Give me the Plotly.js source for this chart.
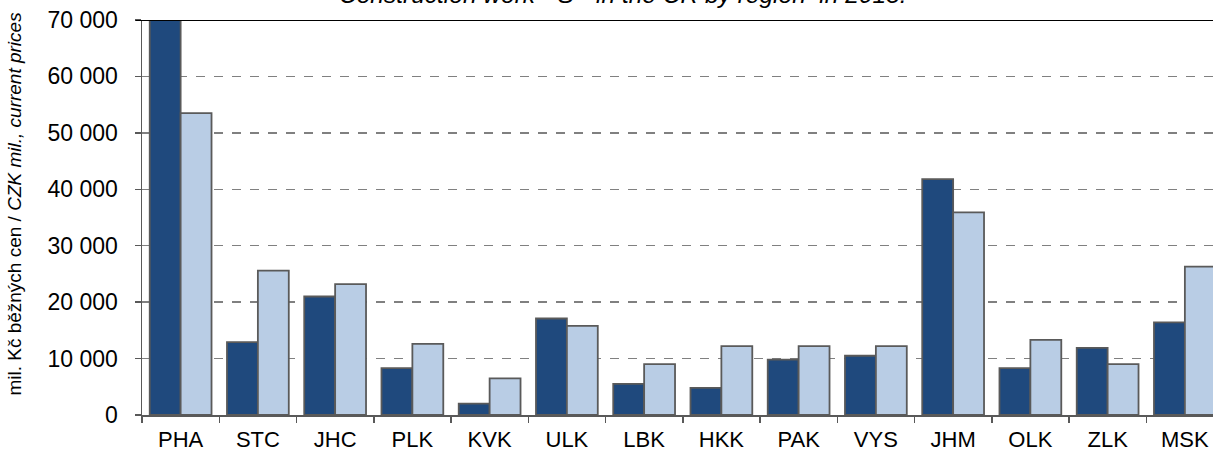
<!DOCTYPE html>
<html>
<head>
<meta charset="utf-8">
<script src="https://cdn.plot.ly/plotly-3.0.1.min.js"></script>
<style>html,body{margin:0;padding:0;background:#fff;}#chart{width:1213px;height:455px;}</style>
</head>
<body>
<div id="chart"></div>
<script>
const regions = ["PHA","STC","JHC","PLK","KVK","ULK","LBK","HKK","PAK","VYS","JHM","OLK","ZLK","MSK"];
const seriesDark = [72000,12900,21000,8300,2000,17100,5500,4800,9800,10500,41800,8300,11900,16400];
const seriesLight = [53500,25600,23200,12600,6500,15800,9000,12200,12200,12200,35900,13300,9000,26300];
const yTickVals = [0,10000,20000,30000,40000,50000,60000,70000];
const yTickText = ["0","10 000","20 000","30 000","40 000","50 000","60 000","70 000"];
const chartTitle = "Construction work \u00a0\"S\"\u00a0 in the CR by region\u00a0 in 2013:";

const outline = {color:"#5a5a5a", width:1.8};
const traces = [
  {type:"bar", x:regions, y:seriesDark, marker:{color:"#1f497d", line:outline}, hoverinfo:"x+y"},
  {type:"bar", x:regions, y:seriesLight, marker:{color:"#b9cde5", line:outline}, hoverinfo:"x+y"}
];
const fontFam = "Liberation Sans, Arial, sans-serif";
const layout = {
  width:1213, height:455,
  margin:{l:142, r:0, t:20, b:40, pad:0},
  paper_bgcolor:"#fff", plot_bgcolor:"#fff",
  showlegend:false,
  barmode:"group", bargap:0.2, bargroupgap:0,
  font:{family:fontFam, size:22, color:"#000"},
  xaxis:{type:"category", range:[-0.5, 13.364], showgrid:false, showline:true, linecolor:"#595959", linewidth:1.5,
         ticks:"outside", tickson:"boundaries", ticklen:6, tickcolor:"#595959", tickwidth:1.5, ticklabelstandoff:4,
         tickfont:{family:fontFam, size:22, color:"#000"}, fixedrange:true},
  yaxis:{range:[0,70000], tickvals:yTickVals, ticktext:yTickText, showgrid:true, gridcolor:"#808080", griddash:"dash", gridwidth:1.5,
         showline:true, linecolor:"#595959", linewidth:1.5, ticks:"outside", ticklen:6, tickcolor:"#595959", tickwidth:1.5, ticklabelstandoff:12,
         tickfont:{family:fontFam, size:23, color:"#000"}, zeroline:false, fixedrange:true},
  shapes:[{type:"line", xref:"paper", yref:"y", x0:-0.006, x1:1, y0:70000, y1:70000, line:{color:"#000", width:1.8}, layer:"above"}],
  annotations:[
    {text:chartTitle, xref:"paper", yref:"paper", x:0.449, y:1.025, xanchor:"center", yanchor:"bottom", showarrow:false,
     font:{family:fontFam, size:24.5, style:"italic", color:"#000"}},
    {text:"mil. Kč běžných cen / <i>CZK mil., current prices</i>", textangle:-90, xref:"paper", yref:"paper",
    x:-0.119, y:0.534, xanchor:"center", yanchor:"middle", showarrow:false, font:{family:fontFam, size:19, color:"#000"}}]
};
Plotly.newPlot("chart", traces, layout, {displayModeBar:false, staticPlot:true});
</script>
</body>
</html>
